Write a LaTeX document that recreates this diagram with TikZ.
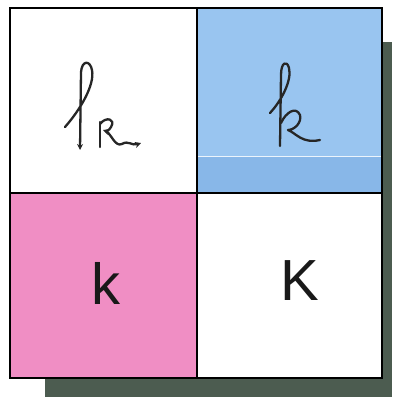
\documentclass[tikz,border=0pt]{standalone}
\usepackage{fontspec}
\setsansfont{Liberation Sans}
\usetikzlibrary{arrows.meta}
\definecolor{cellblue}{RGB}{153,197,240}
\definecolor{stripblue}{RGB}{136,183,232}
\definecolor{cellpink}{RGB}{240,142,196}
\definecolor{shadowgreen}{RGB}{76,92,80}
\begin{document}
\begin{tikzpicture}[x=1pt,y=-1pt,cell/.style={draw,line width=1.8pt,inner sep=0pt,outer sep=0pt},print/.style={font=\sffamily\fontsize{58}{58}\selectfont,text=black!90},hand/.style={line width=2.3pt,line cap=round,line join=round,black!85},tip/.style={-{Stealth[length=6pt,width=6pt]}}]
\useasboundingbox (0,0) rectangle (392,400);
\fill[shadowgreen] (45,42) rectangle (392,397);
\node[cell,fill=white,minimum width=187pt,minimum height=185pt] (handk) at (103.5,100.5) {};
\node[cell,fill=cellblue,minimum width=185pt,minimum height=185pt] (cursk) at (289.5,100.5) {};
\node[cell,fill=cellpink,minimum width=187pt,minimum height=185pt] (smallk) at (103.5,285.5) {};
\node[cell,fill=white,minimum width=185pt,minimum height=185pt] (bigk) at (289.5,285.5) {};
\fill[stripblue] (198,156) rectangle (381.2,192);
\draw[white!80!cellblue,line width=0.6pt] (198,156) -- (381.2,156);
\draw[cell] (cursk.north west) rectangle (cursk.south east);
% written k, with its strokes
\draw[hand,tip] (65,127) .. controls (80,110) and (95,85) .. (92,70) .. controls (90,60) and (82,60) .. (81,72) -- (80,150);
\draw[hand] (100,147) -- (100,122);
\draw[hand,tip] (100,124) .. controls (106,116) and (116,119) .. (111,127) .. controls (109,131) and (106,131) .. (103,130);
\draw[hand,tip] (106,131) .. controls (112,135) and (115,147) .. (122,144) .. controls (128,140) and (132,146) .. (141,143);
% cursive k
\draw[hand] (270,113) .. controls (282,100) and (292,80) .. (289,68) .. controls (287,60) and (281,62) .. (281,75) -- (280,146);
\draw[hand] (281,123) .. controls (286,112) and (296,106) .. (300,115) .. controls (302,123) and (294,130) .. (288,130) .. controls (296,133) and (302,144) .. (320,140);
% printed letters
\node[print] (lowk) at (106,283) {k};
\node[print] (capk) at (300,281) {K};
\end{tikzpicture}
\end{document}
